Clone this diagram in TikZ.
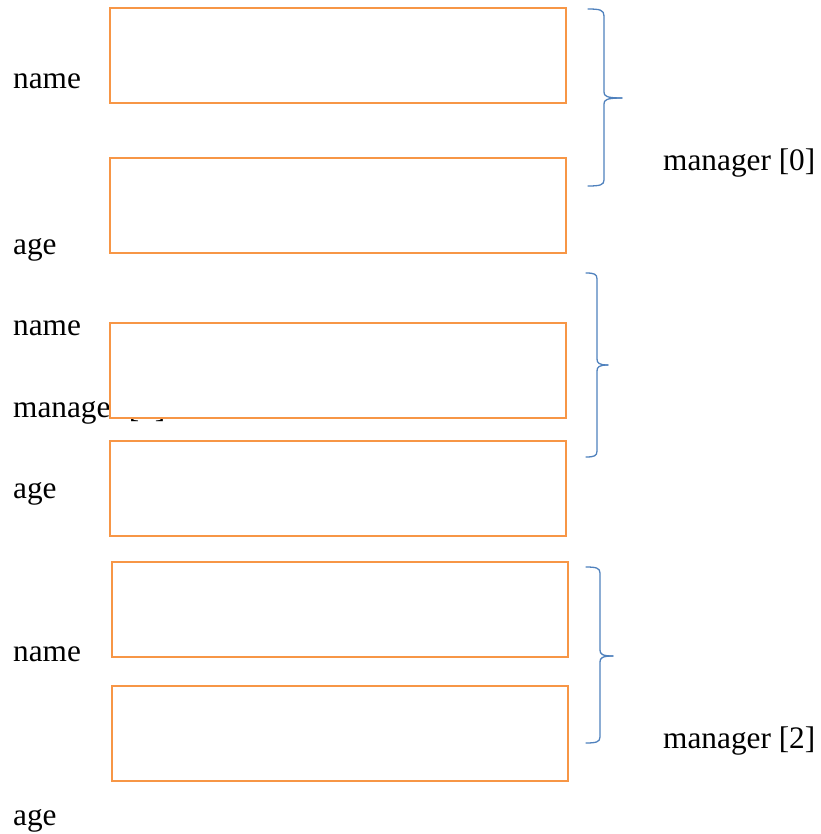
\documentclass[tikz,border=0pt]{standalone}
\usepackage{fontspec}
\setmainfont{Liberation Serif}
\definecolor{fieldorange}{RGB}{247,150,70}
\definecolor{braceblue}{RGB}{79,129,189}
\tikzset{
  field/.style={draw=fieldorange, line width=2.4pt, fill=white, anchor=north west,
    minimum width=456pt, minimum height=95pt, inner sep=0pt, outer sep=0pt},
  lbl/.style={anchor=base west, inner sep=0pt, font=\fontsize{31.3pt}{36pt}\selectfont},
  brace/.style={draw=braceblue, line width=1.3pt, line cap=round, line join=round},
}
\begin{document}
\begin{tikzpicture}[x=1pt, y=-1pt]
  \useasboundingbox (0,0) rectangle (820,834);

  % labels on the left
  \node[lbl] (n1) at (13,89) {name};
  \node[lbl] (a1) at (13,254) {age};
  \node[lbl] (n2) at (13,335) {name};
  \node[lbl] (m1) at (13,417) {manager [1]};
  \node[lbl] (a2) at (13,498) {age};
  \node[lbl] (n3) at (13,661) {name};
  \node[lbl] (a3) at (13,825) {age};

  % labels on the right
  \node[lbl] (m0) at (663,171) {manager [0]};
  \node[lbl] (m2) at (663,748) {manager [2]};

  % the field boxes (filled white, so they hide text underneath)
  \node[field] (f1) at (110,8) {};
  \node[field] (f2) at (110,158) {};
  \node[field] (f3) at (110,323) {};
  \node[field] (f4) at (110,441) {};
  \node[field] (f5) at (112,562) {};
  \node[field] (f6) at (112,686) {};

  % curly braces grouping each pair of fields
  \draw[brace] (588,9) .. controls (600,9) and (604,10) .. (604,16) -- (604,92)
    .. controls (604,96) and (606,98) .. (622,98);
  \draw[brace] (622,98) .. controls (606,98) and (604,100) .. (604,104) -- (604,180)
    .. controls (604,185) and (600,186) .. (588,186);

  \draw[brace] (586,273) .. controls (594,273) and (597,274) .. (597,279) -- (597,359)
    .. controls (597,363) and (599,365) .. (608,365);
  \draw[brace] (608,365) .. controls (599,365) and (597,367) .. (597,371) -- (597,451)
    .. controls (597,456) and (594,457) .. (586,457);

  \draw[brace] (586,567) .. controls (596,567) and (600,568) .. (600,573) -- (600,650)
    .. controls (600,654) and (602,656) .. (613,656);
  \draw[brace] (613,656) .. controls (602,656) and (600,658) .. (600,662) -- (600,737)
    .. controls (600,742) and (596,743) .. (586,743);
\end{tikzpicture}
\end{document}
